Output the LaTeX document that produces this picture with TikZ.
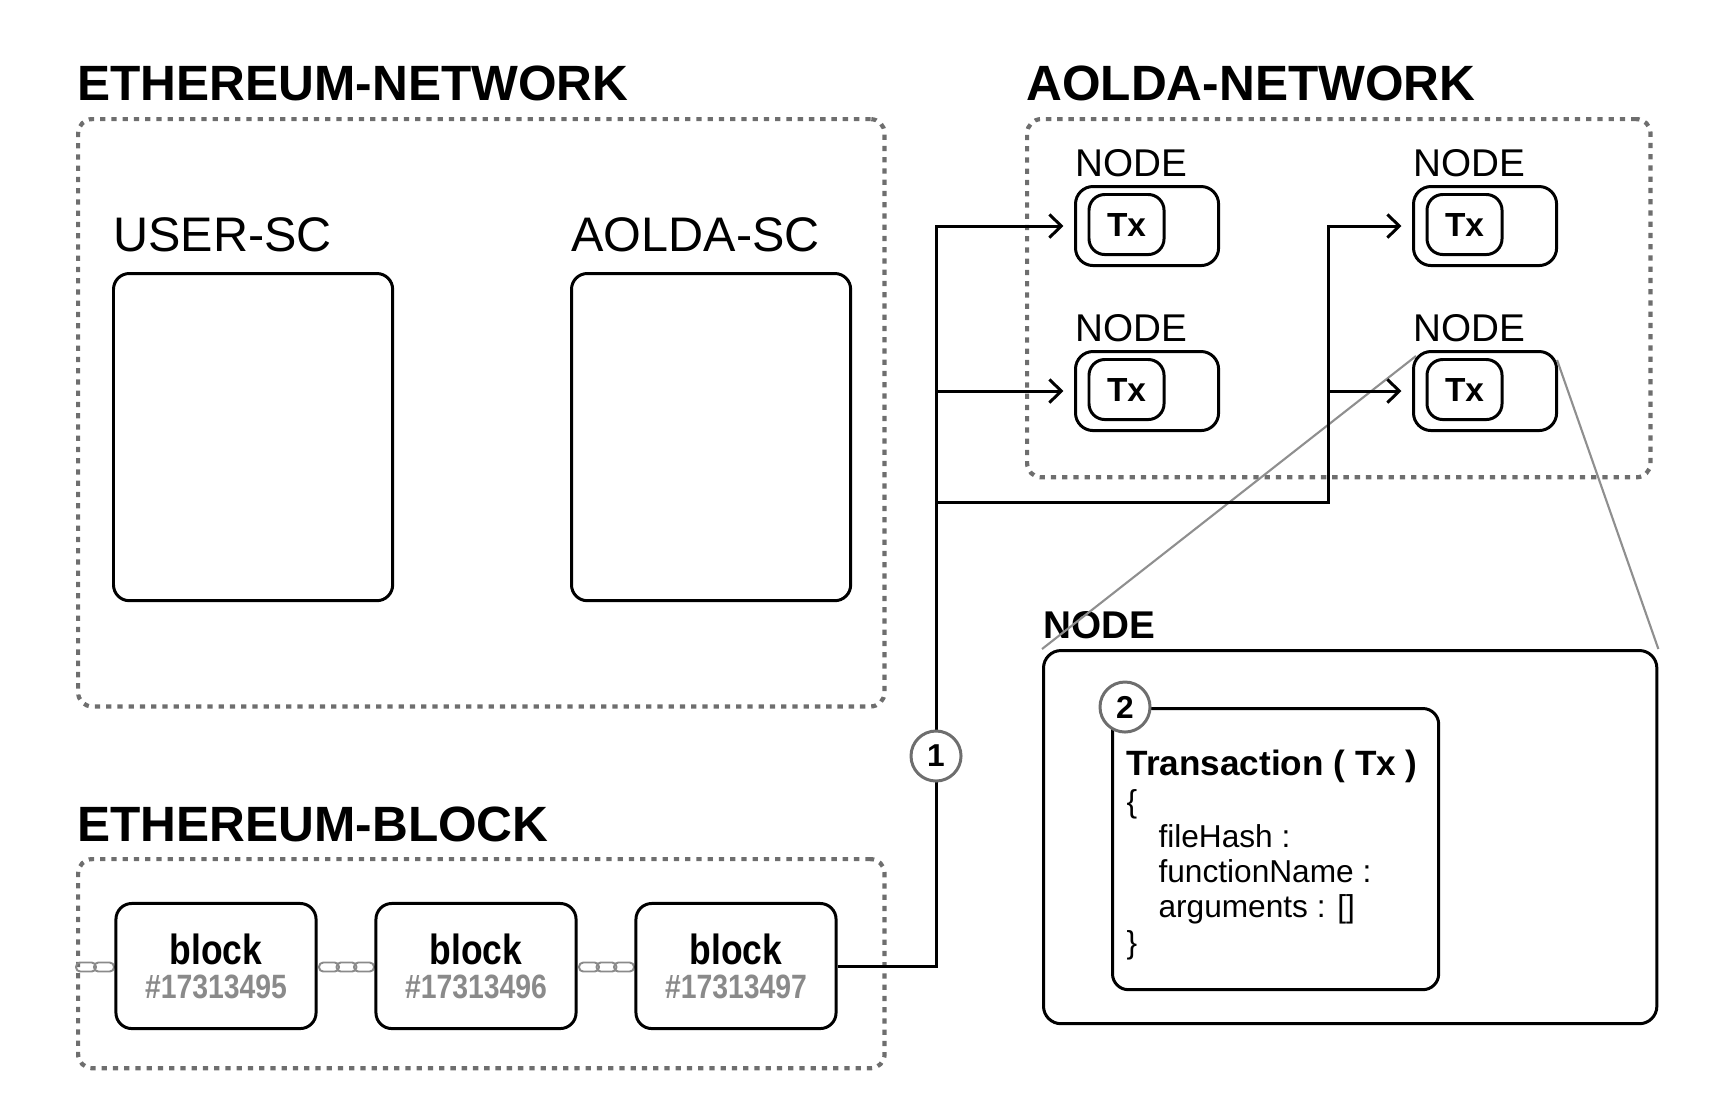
\documentclass[tikz,border=0pt]{standalone}
\usepackage{xcolor}
\usepackage{fontspec}
\setmainfont{Liberation Sans}
\newfontfamily\condfont[FakeStretch=0.84]{Liberation Sans}
\usetikzlibrary{arrows.meta}
\definecolor{dashgray}{HTML}{6E6E6E}
\definecolor{idgray}{HTML}{8A8A8A}
\definecolor{zoomgray}{HTML}{8F8F8F}

\begin{document}
\begin{tikzpicture}[x=0.01cm, y=-0.01cm, line width=0.85pt,
    title/.style={anchor=base west, inner sep=0pt, font=\bfseries\fontsize{14.1}{17}\selectfont},
    sclabel/.style={anchor=base west, inner sep=0pt, font=\fontsize{13.8}{17}\selectfont},
    netbox/.style={draw=dashgray, line width=1.2pt, dash pattern=on 1.5pt off 1.7pt, rounded corners=4pt, anchor=north west, inner sep=0pt},
    scbox/.style={draw, rounded corners=4.5pt, anchor=north west, minimum width=2.79cm, minimum height=3.27cm, inner sep=0pt},
    blockbox/.style={draw, rounded corners=4.5pt, minimum width=2cm, minimum height=1.25cm, inner sep=0pt},
    blocktitle/.style={anchor=base, inner sep=0pt, font=\condfont\bfseries\fontsize{12}{14}\selectfont},
    blockid/.style={anchor=base, inner sep=0pt, text=idgray, font=\condfont\bfseries\fontsize{9.6}{12}\selectfont},
    chain/.style={draw=idgray, line width=0.55pt, rounded corners=1.2pt},
    nodelabel/.style={anchor=base west, inner sep=0pt, font=\fontsize{11}{13}\selectfont},
    nodebox/.style={draw, rounded corners=5pt, anchor=north west, minimum width=1.43cm, minimum height=0.79cm, inner sep=0pt},
    txbox/.style={draw, rounded corners=4.5pt, minimum width=0.75cm, minimum height=0.6cm, inner sep=0pt, font=\bfseries\fontsize{9.5}{11}\selectfont},
    flow/.style={-{Straight Barb[length=3.4pt, width=6.6pt]}, shorten >=3pt},
    zoomline/.style={draw=zoomgray, line width=0.6pt},
    stepmark/.style={circle, draw=dashgray, fill=white, minimum size=0.5cm, inner sep=0pt, font=\bfseries\fontsize{9}{11}\selectfont},
    txhead/.style={anchor=base west, inner sep=0pt, font=\bfseries\fontsize{10}{12}\selectfont},
    txline/.style={anchor=base west, inner sep=0pt, font=\fontsize{9}{10}\selectfont}]
    \useasboundingbox (0,0) rectangle (1728,1117);

    \node[title] (ethnettitle) at (76,100) {ETHEREUM-NETWORK};
    \node[netbox, minimum width=8.06cm, minimum height=5.87cm] (ethnet) at (76,117) {};
    \node[sclabel] (userlabel) at (112,251) {USER-SC};
    \node[scbox] (usersc) at (112,272) {};
    \node[sclabel] (aoldalabel) at (570,251) {AOLDA-SC};
    \node[scbox] (aoldasc) at (570,272) {};

    \node[title] (ethblocktitle) at (76,841) {ETHEREUM-BLOCK};
    \node[netbox, minimum width=8.06cm, minimum height=2.09cm] (ethblock) at (76,857) {};
    \foreach \cx in {86,104, 329,346.5,364, 589,606.5,624}
        \draw[chain] (\cx-10,962.5) rectangle (\cx+10,971.5);
    \foreach \i/\bx/\num in {1/216/17313495, 2/476/17313496, 3/736/17313497} {
        \node[blockbox, fill=white] (b\i) at (\bx,966) {};
        \node[blocktitle] (b\i title) at (\bx,964) {block};
        \node[blockid] (b\i id) at (\bx,998) {\#\num};
    }

    \node[title] (aoldanettitle) at (1025,100) {AOLDA-NETWORK};
    \node[netbox, minimum width=6.23cm, minimum height=3.58cm] (aoldanet) at (1025,117) {};
    \foreach \nm/\nx/\ny in {n1/1074/185, n2/1074/350, n3/1412/185, n4/1412/350} {
        \node[nodelabel] (\nm label) at (\nx,\ny-9) {NODE};
        \node[nodebox] (\nm) at (\nx,\ny) {};
        \node[txbox] (\nm tx) at (\nx+52.5,\ny+39.5) {Tx};
    }

    \node[title, font=\bfseries\fontsize{11}{13}\selectfont] (detaillabel) at (1042,638) {NODE};
    \node[draw, rounded corners=5pt, anchor=north west, minimum width=6.13cm, minimum height=3.73cm] (detail) at (1042,649) {};
    \node[draw, rounded corners=4.5pt, anchor=north west, minimum width=3.26cm, minimum height=2.81cm] (txdetail) at (1111,707) {};
    \node[stepmark] (two) at (1125,707) {2};
    \node[txhead] (txtitle) at (1125,775) {Transaction ( Tx )};
    \node[txline] (txopen) at (1125,812) {\{};
    \foreach \k/\field in {0/fileHash :, 1/functionName :, 2/arguments : []}
        \node[txline] (field\k) at (1157,847+35*\k) {\field};
    \node[txline] (txclose) at (1125,953) {\}};

    \coordinate (trunk) at (936,756);
    \coordinate (bend) at (1328,502);
    \draw[zoomline] ([shift={(4,6)}]n4.north west) -- (detail.north west);
    \draw[zoomline] ([shift={(-1,10)}]n4.north east) -- (detail.north east);
    \draw[flow] (b3.east) -| (trunk |- n1.west) -- (n1.west);
    \draw[flow] (trunk |- n2.west) -- (n2.west);
    \draw[flow] (trunk |- bend) -- (bend) |- (n3.west);
    \draw[flow] (bend |- n4.west) -- (n4.west);
    \node[stepmark] (one) at (trunk) {1};
\end{tikzpicture}
\end{document}
